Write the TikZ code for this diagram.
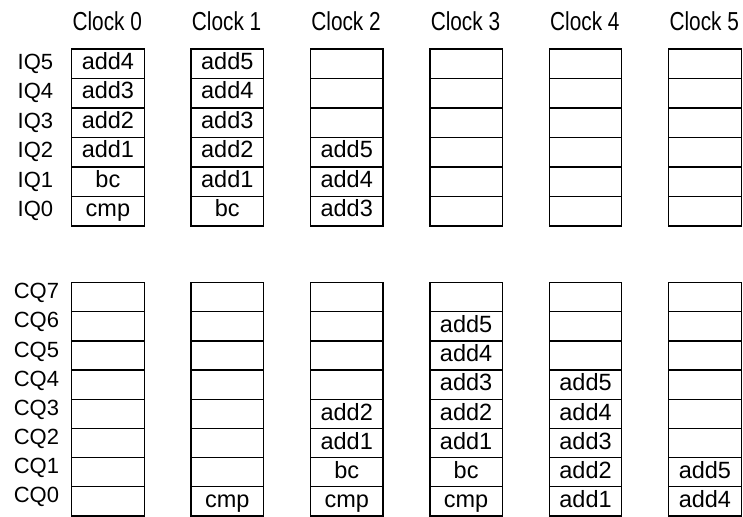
\documentclass[tikz,border=0pt]{standalone}
\usepackage{fontspec}
\setmainfont{Liberation Sans}
\newfontfamily\narrowfont[FakeStretch=0.8]{Liberation Sans}
\usepackage{tikz}
\usetikzlibrary{positioning}

\begin{document}
\begin{tikzpicture}[
  x=1pt,y=-1pt,
  cell/.style={draw,line width=1.3pt,minimum width=72.5pt,inner sep=0pt,anchor=north west,font=\fontsize{23.5}{25}\selectfont,text height=20.5pt},
  iqcell/.style={cell,minimum height=29.5pt,text depth=9pt},
  cqcell/.style={cell,minimum height=29.15pt,text depth=8.15pt},
  rowlbl/.style={anchor=base east,inner sep=0pt,font=\fontsize{22}{24}\selectfont},
  clk/.style={anchor=base,inner sep=0pt,font=\narrowfont\fontsize{26}{28}\selectfont}]
  \useasboundingbox (0,0) rectangle (743,516);
  % issue queue, top slot first
  \foreach \c/\cells in {0/{add4,add3,add2,add1,bc,cmp},1/{add5,add4,add3,add2,add1,bc},2/{{},{},{},add5,add4,add3},
      3/{{},{},{},{},{},{}},4/{{},{},{},{},{},{}},5/{{},{},{},{},{},{}}}
    \foreach \t [count=\k from 0] in \cells {
      \pgfmathtruncatemacro\q{5-\k}
      \node[iqcell] (iq\c-\q) at (71+119.4*\c,48.3+29.5*\k) {\t};
    }
  % completion queue, top slot first
  \foreach \c/\cells in {0/{{},{},{},{},{},{},{},{}},1/{{},{},{},{},{},{},{},cmp},2/{{},{},{},{},add2,add1,bc,cmp},
      3/{{},add5,add4,add3,add2,add1,bc,cmp},4/{{},{},{},add5,add4,add3,add2,add1},5/{{},{},{},{},{},{},add5,add4}}
    \foreach \t [count=\k from 0] in \cells {
      \pgfmathtruncatemacro\q{7-\k}
      \node[cqcell] (cq\c-\q) at (71+119.4*\c,282+29.15*\k) {\t};
    }
  \foreach \c in {0,...,5}
    \node[clk] (clk\c) at (107.25+119.4*\c,30.7) {Clock \c};
  \foreach \q in {0,...,5}
    \node[rowlbl,left=17.7pt of iq0-\q.base west,anchor=base east,yshift=0.4pt] (iqlbl\q) {IQ\q};
  \foreach \q in {0,...,7}
    \node[rowlbl,left=11.7pt of cq0-\q.base west,anchor=base east,yshift=4.7pt] (cqlbl\q) {CQ\q};
\end{tikzpicture}
\end{document}
